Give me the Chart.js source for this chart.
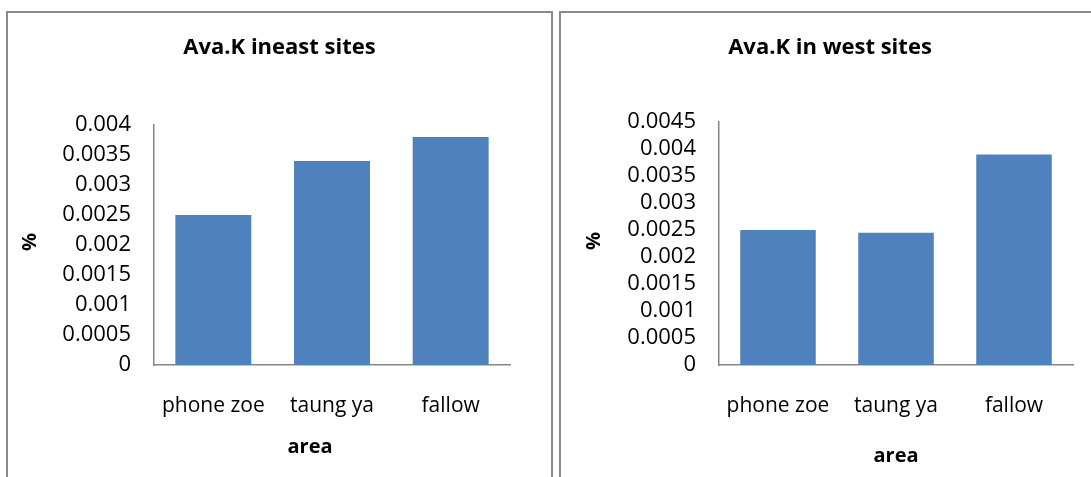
<!DOCTYPE html>
<html>
<head>
<meta charset="utf-8">
<script src="https://cdn.jsdelivr.net/npm/chart.js@4.4.1/dist/chart.umd.min.js"></script>
<style>
  html, body { margin: 0; padding: 0; background: #fff; width: 1091px; height: 477px; overflow: hidden; position: relative; }
  .panel { position: absolute; border: 2px solid #8a8a8a; box-sizing: border-box; background: #fff; }
  canvas { position: absolute; }
</style>
</head>
<body>
<div class="panel" style="left:6px; top:11px; width:547px; height:500px;"></div>
<div class="panel" style="left:559px; top:11px; width:600px; height:500px;"></div>
<canvas id="c1" width="543" height="464" style="left:8px; top:13px;"></canvas>
<canvas id="c2" width="536" height="464" style="left:562px; top:13px;"></canvas>
<script>
// ---- data ----
const categories = ['phone zoe', 'taung ya', 'fallow'];
const eastValues = [0.0025, 0.0034, 0.0038];
const westValues = [0.0025, 0.00245, 0.0039];
const eastTickLabels = ['0', '0.0005', '0.001', '0.0015', '0.002', '0.0025', '0.003', '0.0035', '0.004'];
const westTickLabels = ['0', '0.0005', '0.001', '0.0015', '0.002', '0.0025', '0.003', '0.0035', '0.004', '0.0045'];
const eastTitle = 'Ava.K ineast sites';
const westTitle = 'Ava.K in west sites';
const xTitle = 'area';
const yTitle = '%';

const FONT = "'Open Sans', 'DejaVu Sans', sans-serif";
const BAR = '#4F81BD';

const textPlugin = {
  id: 'panelText',
  afterDraw(chart, args, opts) {
    const ctx = chart.ctx;
    ctx.save();
    ctx.fillStyle = '#000';
    ctx.textAlign = 'center';
    ctx.textBaseline = 'middle';
    ctx.font = 'bold 22px ' + FONT;
    ctx.fillText(opts.title, chart.width / 2, opts.titleY);
    ctx.font = 'bold 20px ' + FONT;
    ctx.fillText(opts.xTitle, opts.xTitleX, opts.xTitleY);
    ctx.translate(opts.yTitleX, opts.yTitleY);
    ctx.rotate(-Math.PI / 2);
    ctx.fillText(opts.yTitle, 0, 0);
    ctx.restore();
  }
};

function makeChart(id, values, tickLabels, title, cfg) {
  const max = Number(tickLabels[tickLabels.length - 1]);
  return new Chart(document.getElementById(id), {
    type: 'bar',
    data: {
      labels: categories,
      datasets: [{
        data: values,
        backgroundColor: BAR,
        borderWidth: 0,
        barPercentage: 0.64,
        categoryPercentage: 1.0
      }]
    },
    plugins: [textPlugin],
    options: {
      responsive: false,
      animation: false,
      devicePixelRatio: 1,
      layout: { padding: { left: 0, right: cfg.padRight, top: cfg.top, bottom: cfg.padBottom } },
      plugins: {
        legend: { display: false },
        tooltip: { enabled: false },
        title: { display: false },
        panelText: {
          title: title,
          titleY: 35,
          xTitle: xTitle,
          xTitleX: cfg.xTitleX,
          xTitleY: cfg.xTitleY,
          yTitle: yTitle,
          yTitleX: cfg.yTitleX,
          yTitleY: cfg.yTitleY
        }
      },
      scales: {
        x: {
          grid: { display: false, drawTicks: false },
          border: { display: true, color: '#868686', width: 1.5 },
          ticks: { color: '#000', font: { family: FONT, size: 21 }, padding: 28, maxRotation: 0, autoSkip: false },
          afterFit(scale) { scale.height = 60; }
        },
        y: {
          min: 0,
          max: max,
          grid: { display: false, drawTicks: false },
          border: { display: true, color: '#868686', width: 1.5 },
          ticks: {
            stepSize: 0.0005,
            color: '#000',
            font: { family: FONT, size: 22 },
            padding: 23,
            autoSkip: false,
            callback: (v, i) => tickLabels[i]
          },
          afterFit(scale) { scale.width = cfg.yWidth; }
        }
      }
    }
  });
}

makeChart('c1', eastValues, eastTickLabels, eastTitle, {
  padRight: 41, top: 112, padBottom: 52, yWidth: 146,
  xTitleX: 302, xTitleY: 434, yTitleX: 22, yTitleY: 229
});
makeChart('c2', westValues, westTickLabels, westTitle, {
  padRight: 25, top: 109, padBottom: 52, yWidth: 157,
  xTitleX: 334, xTitleY: 443, yTitleX: 32, yTitleY: 228
});
</script>
</body>
</html>
